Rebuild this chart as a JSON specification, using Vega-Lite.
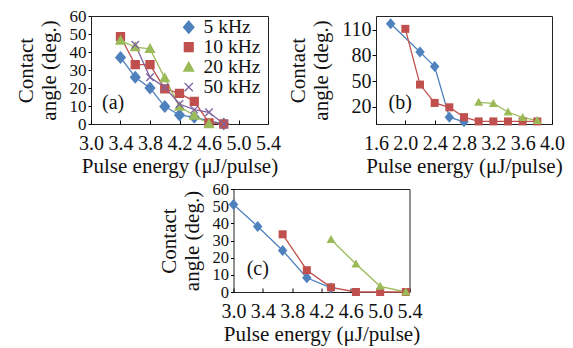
{
  "$schema": "https://vega.github.io/schema/vega-lite/v6.json",
  "padding": {"left": 14, "top": 6, "right": 5, "bottom": 5},
  "background": "white",
  "center": true,
  "spacing": 3,
  "datasets": {
    "a": [
      {"series": "5 kHz", "energy": 3.4, "angle": 37},
      {"series": "5 kHz", "energy": 3.6, "angle": 26},
      {"series": "5 kHz", "energy": 3.8, "angle": 20},
      {"series": "5 kHz", "energy": 4.0, "angle": 9.7},
      {"series": "5 kHz", "energy": 4.2, "angle": 5},
      {"series": "5 kHz", "energy": 4.4, "angle": 3.7},
      {"series": "5 kHz", "energy": 4.8, "angle": 0},
      {"series": "10 kHz", "energy": 3.4, "angle": 48.5},
      {"series": "10 kHz", "energy": 3.6, "angle": 33},
      {"series": "10 kHz", "energy": 3.8, "angle": 33},
      {"series": "10 kHz", "energy": 4.0, "angle": 19.5},
      {"series": "10 kHz", "energy": 4.2, "angle": 17},
      {"series": "10 kHz", "energy": 4.4, "angle": 12.6},
      {"series": "10 kHz", "energy": 4.6, "angle": 0.6},
      {"series": "10 kHz", "energy": 4.8, "angle": 0},
      {"series": "20 kHz", "energy": 3.4, "angle": 46.4},
      {"series": "20 kHz", "energy": 3.6, "angle": 42.7},
      {"series": "20 kHz", "energy": 3.8, "angle": 41.8},
      {"series": "20 kHz", "energy": 4.0, "angle": 25.5},
      {"series": "20 kHz", "energy": 4.2, "angle": 9.7},
      {"series": "20 kHz", "energy": 4.4, "angle": 4.7},
      {"series": "20 kHz", "energy": 4.6, "angle": 0},
      {"series": "50 kHz", "energy": 3.6, "angle": 44},
      {"series": "50 kHz", "energy": 3.8, "angle": 26},
      {"series": "50 kHz", "energy": 4.0, "angle": 20.4},
      {"series": "50 kHz", "energy": 4.2, "angle": 11.1},
      {"series": "50 kHz", "energy": 4.4, "angle": 8},
      {"series": "50 kHz", "energy": 4.6, "angle": 6.5},
      {"series": "50 kHz", "energy": 4.8, "angle": 0}
    ],
    "b": [
      {"series": "5 kHz", "energy": 1.8, "angle": 117},
      {"series": "5 kHz", "energy": 2.2, "angle": 84},
      {"series": "5 kHz", "energy": 2.4, "angle": 67},
      {"series": "5 kHz", "energy": 2.6, "angle": 8},
      {"series": "5 kHz", "energy": 2.8, "angle": 2.5},
      {"series": "10 kHz", "energy": 2.0, "angle": 111},
      {"series": "10 kHz", "energy": 2.2, "angle": 46},
      {"series": "10 kHz", "energy": 2.4, "angle": 24.6},
      {"series": "10 kHz", "energy": 2.6, "angle": 19.5},
      {"series": "10 kHz", "energy": 2.8, "angle": 8},
      {"series": "10 kHz", "energy": 3.0, "angle": 3},
      {"series": "10 kHz", "energy": 3.2, "angle": 3},
      {"series": "10 kHz", "energy": 3.4, "angle": 3},
      {"series": "10 kHz", "energy": 3.6, "angle": 3},
      {"series": "10 kHz", "energy": 3.8, "angle": 3},
      {"series": "20 kHz", "energy": 3.0, "angle": 25.3},
      {"series": "20 kHz", "energy": 3.2, "angle": 24},
      {"series": "20 kHz", "energy": 3.4, "angle": 14},
      {"series": "20 kHz", "energy": 3.6, "angle": 7.6},
      {"series": "20 kHz", "energy": 3.8, "angle": 4}
    ],
    "c": [
      {"series": "5 kHz", "energy": 3.0, "angle": 51},
      {"series": "5 kHz", "energy": 3.33, "angle": 38.2},
      {"series": "5 kHz", "energy": 3.67, "angle": 24.2},
      {"series": "5 kHz", "energy": 4.0, "angle": 8.3},
      {"series": "5 kHz", "energy": 4.33, "angle": 2.4},
      {"series": "10 kHz", "energy": 3.67, "angle": 33.6},
      {"series": "10 kHz", "energy": 4.0, "angle": 12.7},
      {"series": "10 kHz", "energy": 4.33, "angle": 2.7},
      {"series": "10 kHz", "energy": 4.67, "angle": 0},
      {"series": "10 kHz", "energy": 5.0, "angle": 0},
      {"series": "10 kHz", "energy": 5.35, "angle": 0},
      {"series": "20 kHz", "energy": 4.33, "angle": 30.6},
      {"series": "20 kHz", "energy": 4.67, "angle": 16.3},
      {"series": "20 kHz", "energy": 5.0, "angle": 3.3},
      {"series": "20 kHz", "energy": 5.35, "angle": 0}
    ]
  },
  "vconcat": [
    {
      "hconcat": [
        {
          "width": 177, "height": 108,
          "data": {"name": "a"},
          "encoding": {
            "x": {"field": "energy", "type": "quantitative", "scale": {"domain": [3.0, 5.4], "nice": false, "zero": false}, "axis": {"title": "Pulse energy (μJ/pulse)", "values": [3.0, 3.4, 3.8, 4.2, 4.6, 5.0, 5.4], "format": ".1f", "labelOverlap": false, "ticks": true, "tickSize": -4, "tickColor": "#000", "labelPadding": 13}},
            "y": {"field": "angle", "type": "quantitative", "scale": {"domain": [0, 60], "nice": false}, "axis": {"title": ["Contact", "angle (deg.)"], "values": [0, 10, 20, 30, 40, 50, 60], "labelOverlap": false, "ticks": true, "tickSize": 3, "tickColor": "#000", "labelPadding": 2, "labelFontSize": 17}}
          },
          "layer": [
            {
              "mark": {"type": "line", "strokeWidth": 1.3},
              "encoding": {
                "color": {"field": "series", "type": "nominal", "scale": {"domain": ["5 kHz", "10 kHz", "20 kHz", "50 kHz"], "range": ["#4F81BD", "#C0504D", "#9BBB59", "#8064A2"]},
                  "legend": {"orient": "none", "legendX": 88, "legendY": 2, "title": null, "clipHeight": 18.3, "rowPadding": 0, "padding": 0, "labelOffset": 5, "labelFontSize": 19.5,
                    "encode": {"symbols": {"update": {
                      "shape": {"signal": "datum.value=='5 kHz'?'M-2.2,0L2.2,0M0,-1.1L0.95,0L0,1.1L-0.95,0Z':datum.value=='10 kHz'?'M-2.2,0L2.2,0M-0.8,-0.8L0.8,-0.8L0.8,0.8L-0.8,0.8Z':datum.value=='20 kHz'?'M-2.2,0L2.2,0M0,-0.9L0.9,0.7L-0.9,0.7Z':'M-2.2,0L2.2,0M-0.75,-0.75L0.75,0.75M-0.75,0.75L0.75,-0.75'"},
                      "fill": {"signal": "datum.value=='5 kHz'?'#4F81BD':datum.value=='10 kHz'?'#C0504D':datum.value=='20 kHz'?'#9BBB59':'#8064A2'"},
                      "stroke": {"signal": "datum.value=='5 kHz'?'#4F81BD':datum.value=='10 kHz'?'#C0504D':datum.value=='20 kHz'?'#9BBB59':'#8064A2'"},
                      "strokeWidth": {"value": 1.3},
                      "opacity": {"value": 1}
                    }}}}}
              }
            },
            {
              "mark": {"type": "point", "filled": true, "size": 100, "opacity": 1, "strokeWidth": 1.3},
              "encoding": {
                "color": {"field": "series", "type": "nominal", "legend": null},
                "stroke": {"field": "series", "type": "nominal", "scale": {"domain": ["5 kHz", "10 kHz", "20 kHz", "50 kHz"], "range": ["#4F81BD", "#C0504D", "#9BBB59", "#8064A2"]}, "legend": null},
                "shape": {"field": "series", "type": "nominal", "scale": {"domain": ["5 kHz", "10 kHz", "20 kHz", "50 kHz"], "range": ["M0,-1.1L0.95,0L0,1.1L-0.95,0Z", "M-0.8,-0.8L0.8,-0.8L0.8,0.8L-0.8,0.8Z", "M0,-0.9L0.9,0.7L-0.9,0.7Z", "M-0.75,-0.75L0.75,0.75M-0.75,0.75L0.75,-0.75"]}, "legend": null}
              }
            },
            {
              "data": {"values": [{"label": "(a)", "energy": 3.15, "angle": 11.6}]},
              "mark": {"type": "text", "align": "left", "baseline": "middle", "fontSize": 20, "font": "Liberation Serif", "color": "#111"},
              "encoding": {
                "text": {"field": "label"}
              }
            }
          ]
        },
        {
          "width": 176, "height": 108,
          "data": {"name": "b"},
          "encoding": {
            "x": {"field": "energy", "type": "quantitative", "scale": {"domain": [1.6, 4.0], "nice": false, "zero": false}, "axis": {"title": "Pulse energy (μJ/pulse)", "values": [1.6, 2.0, 2.4, 2.8, 3.2, 3.6, 4.0], "format": ".1f", "labelOverlap": false, "ticks": true, "tickSize": -4, "tickColor": "#000", "labelPadding": 13}},
            "y": {"field": "angle", "type": "quantitative", "scale": {"domain": [0, 126], "nice": false}, "axis": {"title": ["Contact", "angle (deg.)"], "values": [20, 50, 80, 110], "labelOverlap": false, "ticks": true, "tickSize": 4, "tickColor": "#000", "labelPadding": 1}}
          },
          "layer": [
            {
              "mark": {"type": "line", "strokeWidth": 1.3},
              "encoding": {
                "color": {"field": "series", "type": "nominal", "scale": {"domain": ["5 kHz", "10 kHz", "20 kHz"], "range": ["#4F81BD", "#C0504D", "#9BBB59"]},
                  "legend": {"orient": "none", "legendX": 86, "legendY": 2, "title": null, "clipHeight": 19, "rowPadding": 0, "padding": 0, "labelOffset": 5, "labelFontSize": 19.5,
                    "encode": {"symbols": {"update": {
                      "shape": {"signal": "datum.value=='5 kHz'?'M-2.2,0L2.2,0M0,-1.1L0.95,0L0,1.1L-0.95,0Z':datum.value=='10 kHz'?'M-2.2,0L2.2,0M-0.8,-0.8L0.8,-0.8L0.8,0.8L-0.8,0.8Z':'M-2.2,0L2.2,0M0,-0.9L0.9,0.7L-0.9,0.7Z'"},
                      "fill": {"signal": "datum.value=='5 kHz'?'#4F81BD':datum.value=='10 kHz'?'#C0504D':'#9BBB59'"},
                      "stroke": {"signal": "datum.value=='5 kHz'?'#4F81BD':datum.value=='10 kHz'?'#C0504D':'#9BBB59'"},
                      "strokeWidth": {"value": 1.3},
                      "opacity": {"value": 1}
                    }}}}}
              }
            },
            {
              "mark": {"type": "point", "filled": true, "size": 100, "opacity": 1, "strokeWidth": 1.3},
              "encoding": {
                "color": {"field": "series", "type": "nominal", "legend": null},
                "shape": {"field": "series", "type": "nominal", "scale": {"domain": ["5 kHz", "10 kHz", "20 kHz"], "range": ["M0,-1.1L0.95,0L0,1.1L-0.95,0Z", "M-0.8,-0.8L0.8,-0.8L0.8,0.8L-0.8,0.8Z", "M0,-0.9L0.9,0.7L-0.9,0.7Z"]}, "legend": null}
              }
            },
            {
              "data": {"values": [{"label": "(b)", "energy": 1.77, "angle": 24}]},
              "mark": {"type": "text", "align": "left", "baseline": "middle", "fontSize": 20, "font": "Liberation Serif", "color": "#111"},
              "encoding": {
                "text": {"field": "label"}
              }
            }
          ]
        }
      ]
    },
    {
      "width": 176, "height": 103,
      "data": {"name": "c"},
      "encoding": {
        "x": {"field": "energy", "type": "quantitative", "scale": {"domain": [3.0, 5.4], "nice": false, "zero": false}, "axis": {"title": "Pulse energy (μJ/pulse)", "values": [3.0, 3.4, 3.8, 4.2, 4.6, 5.0, 5.4], "format": ".1f", "labelOverlap": false, "ticks": true, "tickSize": -4, "tickColor": "#000", "labelPadding": 13}},
        "y": {"field": "angle", "type": "quantitative", "scale": {"domain": [0, 60], "nice": false}, "axis": {"title": ["Contact", "angle (deg.)"], "values": [0, 10, 20, 30, 40, 50, 60], "labelOverlap": false, "ticks": true, "tickSize": 3, "tickColor": "#000", "labelPadding": 2, "labelFontSize": 16.5}}
      },
      "layer": [
        {
          "mark": {"type": "line", "strokeWidth": 1.3},
          "encoding": {
            "color": {"field": "series", "type": "nominal", "scale": {"domain": ["5 kHz", "10 kHz", "20 kHz"], "range": ["#4F81BD", "#C0504D", "#9BBB59"]},
              "legend": {"orient": "none", "legendX": 52, "legendY": 7, "title": null, "clipHeight": 18.3, "rowPadding": 0, "padding": 0, "labelOffset": 5, "labelFontSize": 19.5,
                "encode": {"symbols": {"update": {
                  "shape": {"signal": "datum.value=='5 kHz'?'M-2.2,0L2.2,0M0,-1.1L0.95,0L0,1.1L-0.95,0Z':datum.value=='10 kHz'?'M-2.2,0L2.2,0M-0.8,-0.8L0.8,-0.8L0.8,0.8L-0.8,0.8Z':'M-2.2,0L2.2,0M0,-0.9L0.9,0.7L-0.9,0.7Z'"},
                  "fill": {"signal": "datum.value=='5 kHz'?'#4F81BD':datum.value=='10 kHz'?'#C0504D':'#9BBB59'"},
                  "stroke": {"signal": "datum.value=='5 kHz'?'#4F81BD':datum.value=='10 kHz'?'#C0504D':'#9BBB59'"},
                  "strokeWidth": {"value": 1.3},
                  "opacity": {"value": 1}
                }}}}}
          }
        },
        {
          "mark": {"type": "point", "filled": true, "size": 100, "opacity": 1, "strokeWidth": 1.3},
          "encoding": {
            "color": {"field": "series", "type": "nominal", "legend": null},
            "shape": {"field": "series", "type": "nominal", "scale": {"domain": ["5 kHz", "10 kHz", "20 kHz"], "range": ["M0,-1.1L0.95,0L0,1.1L-0.95,0Z", "M-0.8,-0.8L0.8,-0.8L0.8,0.8L-0.8,0.8Z", "M0,-0.9L0.9,0.7L-0.9,0.7Z"]}, "legend": null}
          }
        },
        {
          "data": {"values": [{"label": "(c)", "energy": 3.18, "angle": 13.2}]},
          "mark": {"type": "text", "align": "left", "baseline": "middle", "fontSize": 20, "font": "Liberation Serif", "color": "#111"},
          "encoding": {
            "text": {"field": "label"}
          }
        }
      ]
    }
  ],
  "config": {
    "font": "Liberation Serif",
    "view": {"stroke": "#222", "strokeWidth": 1},
    "concat": {"spacing": 6},
    "axis": {
      "grid": false, "domain": false, "tickColor": "#000", "tickWidth": 1, "labelOverlap": false,
      "labelFont": "Liberation Serif", "labelFontSize": 20, "labelColor": "#111",
      "labelFlush": false, "labelBound": false,
      "titleFont": "Liberation Serif", "titleFontSize": 21, "titleFontWeight": "normal", "titleColor": "#111", "titleLineHeight": 23
    },
    "axisY": {"titlePadding": 10},
    "axisX": {"titlePadding": 2},
    "legend": {
      "labelFont": "Liberation Serif", "labelFontSize": 19.5, "labelColor": "#111",
      "symbolSize": 121, "labelOffset": 5, "rowPadding": 0, "padding": 0
    }
  }
}
